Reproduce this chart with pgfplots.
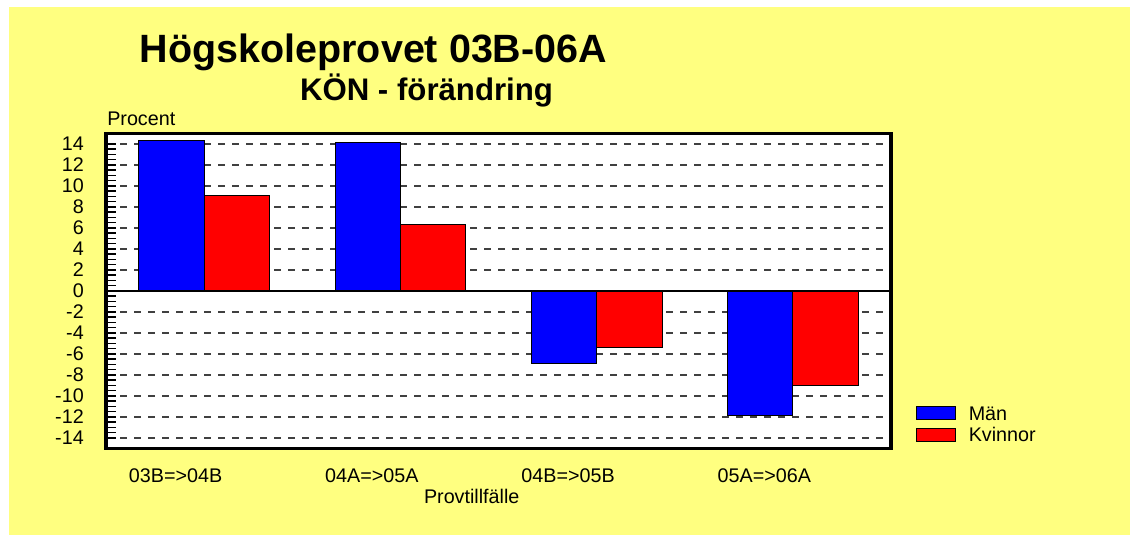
\documentclass[border=0pt]{standalone}
\usepackage{fontspec}
\setmainfont{Liberation Sans}
\usepackage{pgfplots}
\pgfplotsset{compat=1.18}
\definecolor{panel}{RGB}{255,255,128}
\definecolor{gridgray}{RGB}{64,64,64}
\definecolor{barblue}{RGB}{0,0,255}
\definecolor{barred}{RGB}{255,0,0}
\newcommand{\lblfont}{\fontsize{14.8}{16}\selectfont}
\pgfplotsset{
  mylegimg/.style={legend image code/.code={\draw[##1, line width=0.6pt] (0pt,-4.875pt) rectangle (29.25pt,4.875pt);}}
}
\begin{document}
\begin{tikzpicture}
\fill[white] (0,0) rectangle (847.5pt,401.25pt);
\fill[panel] (6.75pt,0) rectangle (847.5pt,396pt);
\begin{axis}[
  at={(79.5pt,65pt)}, anchor=south west,
  scale only axis, width=588.75pt, height=236.25pt,
  xmin=-0.5, xmax=3.5, ymin=-15, ymax=15,
  axis background/.style={fill=white},
  axis line style={line width=2.4pt, line cap=rect},
  xtick={0,1,2,3},
  xticklabels={{03B=>04B},{04A=>05A},{04B=>05B},{05A=>06A}},
  x tick style={draw=none},
  xticklabel style={font=\lblfont, anchor=north, inner sep=0pt, xshift=-21.4pt, yshift=-14.8pt},
  ytick={-14,-12,...,14},
  minor y tick num=3,
  ytick pos=left,
  tick align=inside,
  major tick length=7.5pt, minor tick length=7.5pt,
  y tick style={line width=1.2pt, black},
  yticklabel style={font=\lblfont, anchor=east, inner sep=0pt, xshift=-16.5pt},
  /pgf/number format/assume math mode=true,
  ymajorgrids,
  major grid style={gridgray, line width=1.4pt, dash pattern=on 5.25pt off 5.25pt},
  legend style={at={(1.0315,0.135)}, anchor=north west, draw=none, fill=none,
    inner sep=0pt, font=\lblfont, row sep=5.8pt, column sep=9.75pt,
    nodes={inner sep=0pt, text height=10.5pt, text depth=0pt}},
  legend cell align=left,
]
\addplot[ybar, bar width=0.333, bar shift=-0.1665, fill=barblue, draw=black, line width=0.6pt, mylegimg]
  coordinates {(0,14.3) (1,14.1) (2,-6.9) (3,-11.9)};
\addplot[ybar, bar width=0.333, bar shift=0.1665, fill=barred, draw=black, line width=0.6pt, mylegimg]
  coordinates {(0,9.05) (1,6.3) (2,-5.4) (3,-9.0)};
\legend{Män,Kvinnor}
\draw[black, line width=1.6pt] (axis cs:-0.5,0) -- (axis cs:3.5,0);
\end{axis}
\node[anchor=base, font=\fontsize{29.6}{32}\selectfont\bfseries] at (280.1pt,354pt) {Högskoleprovet 03B-06A};
\node[anchor=base, font=\fontsize{23.4}{26}\selectfont\bfseries] at (319.9pt,325.5pt) {KÖN - förändring};
\node[anchor=base west, font=\lblfont, inner sep=0pt] at (80.25pt,306.75pt) {Procent};
\node[anchor=base, font=\lblfont, inner sep=0pt] at (353.8pt,24pt) {Provtillfälle};
\end{tikzpicture}
\end{document}
